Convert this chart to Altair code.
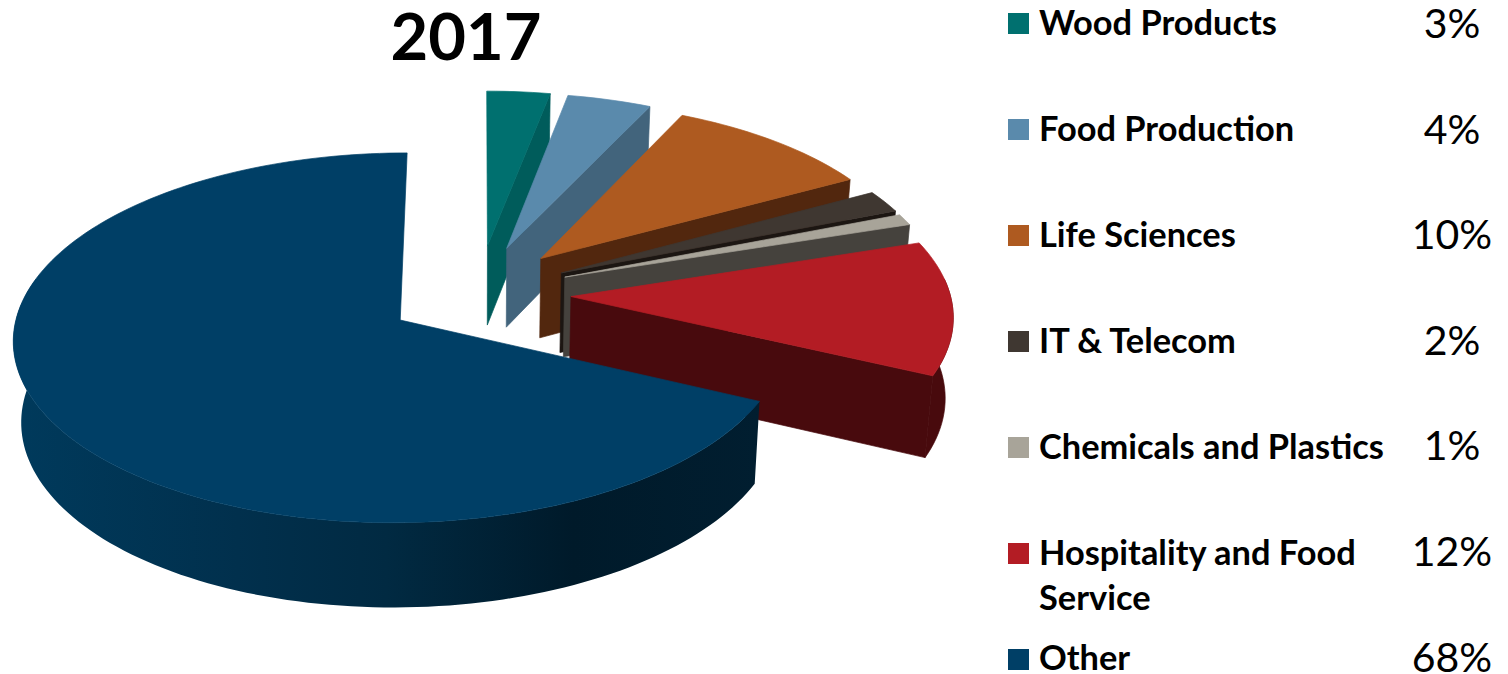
import math
import altair as alt
import pandas as pd

categories = ["Wood Products", "Food Production", "Life Sciences", "IT & Telecom",
              "Chemicals and Plastics", "Hospitality and Food\nService", "Other"]
shares = [3, 4, 10, 2, 1, 12, 68]
tops = ["#00706f", "#5a8aac", "#ae5a20", "#3f3731", "#a8a499", "#b31c24", "#003f66"]
sides = ["#005c5b", "#42647c", "#52270e", "#1c1612", "#45423d", "#480a0d", "#011b2b"]
title = "2017"

W, H = 1490, 672
OX, OY = 8, 8
CX, CY, R, E, EY, SQ, P, D, SHR = 479, 293.5, 379, 92, 1.13, 0.47, 0.00025, 80, 0.983


def proj(X, Y, low=False):
    w = 1 - P * Y
    x = X / w
    y = SQ * Y / w
    if low:
        x *= SHR
        y += D / math.sqrt(w)
    return CX + x - OX, CY + y - OY


def slice_geom(a0, a1):
    mid = math.radians((a0 + a1) / 2)
    ax, ay = E * math.sin(mid), -E * EY * math.cos(mid)
    n = max(2, int((a1 - a0) / 1.5))
    angs = [math.radians(a0 + (a1 - a0) * i / n) for i in range(n + 1)]
    rim = [(ax + R * math.sin(t), ay - R * math.cos(t)) for t in angs]
    return (ax, ay), rim


def poly(points, fill, stroke=True, grad=None):
    df = pd.DataFrame({"x": [p[0] for p in points], "y": [p[1] for p in points],
                       "i": range(len(points))})
    kw = {"fill": grad if grad is not None else fill, "strokeWidth": 0.7 if stroke else 0}
    if stroke:
        kw["stroke"] = fill
    return alt.Chart(df).mark_line(**kw).encode(
        x=alt.X("x:Q", scale=alt.Scale(domain=[0, W]), axis=None),
        y=alt.Y("y:Q", scale=alt.Scale(domain=[0, H], reverse=True), axis=None),
        order="i:Q",
    )


layers = []
start = 0.0
band_grad = alt.LinearGradient(
    gradient="linear", x1=0, x2=1, y1=0, y2=0,
    stops=[alt.GradientStop(color="#003a5c", offset=0),
           alt.GradientStop(color="#01304d", offset=0.3),
           alt.GradientStop(color="#012a42", offset=0.5),
           alt.GradientStop(color="#001a2a", offset=0.75),
           alt.GradientStop(color="#011e30", offset=1)],
)
for k, share in enumerate(shares):
    end = start + share * 3.6
    apex, rim = slice_geom(start, end)
    top = [proj(*apex)] + [proj(*p) for p in rim] + [proj(*apex)]
    # cut face at the slice's closing angle
    cut = [proj(*apex), proj(*rim[-1]), proj(*rim[-1], low=True), proj(*apex, low=True), proj(*apex)]
    if categories[k] != "Other":
        layers.append(poly(cut, sides[k]))
    if categories[k] == "Other":
        front = [p for p in rim if p[1] > -40]
        band = [proj(*p) for p in front] + [proj(*p, low=True) for p in reversed(front)]
        band.append(band[0])
        layers.append(poly(band, sides[k], stroke=False, grad=band_grad))
    elif rim[-1][1] > 0:
        front = [p for p in rim if p[1] > -40]
        band = [proj(*p) for p in front] + [proj(*p, low=True) for p in reversed(front)]
        band.append(band[0])
        layers.append(poly(band, sides[k]))
    layers.append(poly(top, tops[k]))
    start = end

sx = alt.X("x:Q", scale=alt.Scale(domain=[0, W]), axis=None)
sy = alt.Y("y:Q", scale=alt.Scale(domain=[0, H], reverse=True), axis=None)

rows = list(range(len(categories)))
legend_df = pd.DataFrame({
    "name": categories,
    "pct": [f"{s}%" for s in shares],
    "color": tops,
    "sq_y": [23.5 + 106 * r - OY for r in rows],
    "base_y": [35 + 105.9 * r - OY for r in rows],
    "pct_y": [38 + 105.6 * r - OY for r in rows],
    "sq_x": [1018.5 - OX] * len(rows),
    "txt_x": [1039 - OX] * len(rows),
    "pct_x": [1452 - OX] * len(rows),
})
squares = alt.Chart(legend_df).mark_square(size=441, opacity=1, strokeWidth=0).encode(
    x=alt.X("sq_x:Q", scale=alt.Scale(domain=[0, W]), axis=None),
    y=alt.Y("sq_y:Q", scale=alt.Scale(domain=[0, H], reverse=True), axis=None),
    color=alt.Color("color:N", scale=None, legend=None),
)
names = alt.Chart(legend_df).mark_text(
    font="Lato", fontWeight="bold", fontSize=34.4, align="left", baseline="alphabetic",
    lineBreak="\n", lineHeight=45, color="#000000",
).encode(
    x=alt.X("txt_x:Q", scale=alt.Scale(domain=[0, W]), axis=None),
    y=alt.Y("base_y:Q", scale=alt.Scale(domain=[0, H], reverse=True), axis=None),
    text="name:N",
)
pcts = alt.Chart(legend_df).mark_text(
    font="Lato", fontSize=41, align="center", baseline="alphabetic", color="#000000",
).encode(
    x=alt.X("pct_x:Q", scale=alt.Scale(domain=[0, W]), axis=None),
    y=alt.Y("pct_y:Q", scale=alt.Scale(domain=[0, H], reverse=True), axis=None),
    text="pct:N",
)
title_df = pd.DataFrame({"t": [title], "x": [466 - OX], "y": [60 - OY]})
title_mark = alt.Chart(title_df).mark_text(
    font="Lato", fontWeight="bold", fontSize=65, align="center", baseline="alphabetic", color="#000000",
).encode(x=sx, y=sy, text="t:N")

chart = alt.layer(*layers, squares, names, pcts, title_mark).properties(
    width=W, height=H, padding=0, autosize=alt.AutoSizeParams(type="none"),
).configure_view(stroke=None)

chart.save("out.html", embed_options={"renderer": "svg", "actions": False})
